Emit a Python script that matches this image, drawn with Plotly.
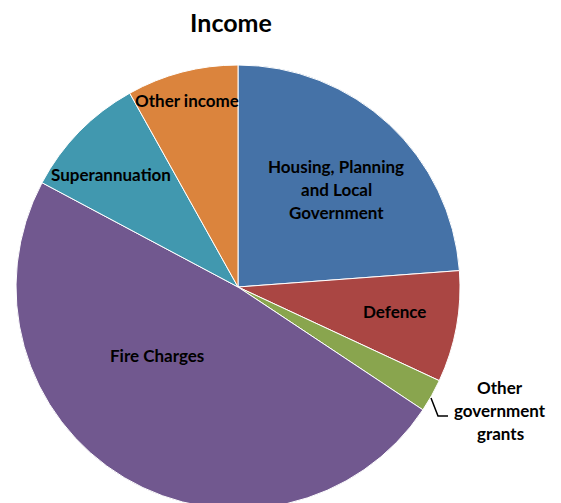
import plotly.graph_objects as go

W, H = 561, 503
OFF = 8  # page body margin offset

categories = ["Housing, Planning and Local Government", "Defence", "Other government grants",
              "Fire Charges", "Superannuation", "Other income"]
values = [23.8, 8.1, 2.4, 48.4, 9.1, 8.1]
colors = ["#4572A7", "#AA4643", "#89A54E", "#71588F", "#4198AF", "#DB843D"]

# label text (lines) and their pixel centres (screen coords)
label_lines = [
    ["Housing, Planning", "and Local", "Government"],
    ["Defence"],
    ["Other", "government", "grants"],
    ["Fire Charges"],
    ["Superannuation"],
    ["Other income"],
]
label_pos = [(336, 189), (394, 311), (500, 410), (157, 355), (111, 174), (187, 100)]
line_gap = 23

cx, cy, r = 238 - OFF, 287 - OFF, 222

fig = go.Figure(go.Pie(
    labels=categories, values=values, sort=False, direction="clockwise", rotation=0,
    marker=dict(colors=colors, line=dict(color="white", width=1)),
    textinfo="none", hoverinfo="label+percent", showlegend=False,
    domain=dict(x=[(cx - r) / W, (cx + r) / W], y=[(H - cy - r) / H, (H - cy + r) / H]),
))

font = dict(family="Lato, 'Open Sans', sans-serif", size=17, color="black")
anns = []
for lines, (px, py) in zip(label_lines, label_pos):
    n = len(lines)
    for i, t in enumerate(lines):
        yy = py - OFF + (i - (n - 1) / 2) * line_gap
        anns.append(dict(text="<b>%s</b>" % t, x=(px - OFF) / W, y=1 - yy / H, xref="paper", yref="paper",
                         showarrow=False, xanchor="center", yanchor="middle", font=font))

def p(x, y):
    return "%f,%f" % ((x - OFF) / W, 1 - (y - OFF) / H)

fig.update_layout(
    width=W, height=H, margin=dict(l=0, r=0, t=0, b=0),
    paper_bgcolor="white", plot_bgcolor="white",
    title=dict(text="<b>Income</b>", x=(231 - OFF) / W, y=1 - (23 - OFF) / H, xanchor="center", yanchor="middle",
               font=dict(family="Lato, 'Open Sans', sans-serif", size=25, color="black")),
    annotations=anns,
    shapes=[dict(type="path", xref="paper", yref="paper",
                 path="M%s L%s L%s" % (p(431, 398), p(438, 416), p(448, 416)),
                 line=dict(color="black", width=1.5))],
)

fig.write_html("out.html")
